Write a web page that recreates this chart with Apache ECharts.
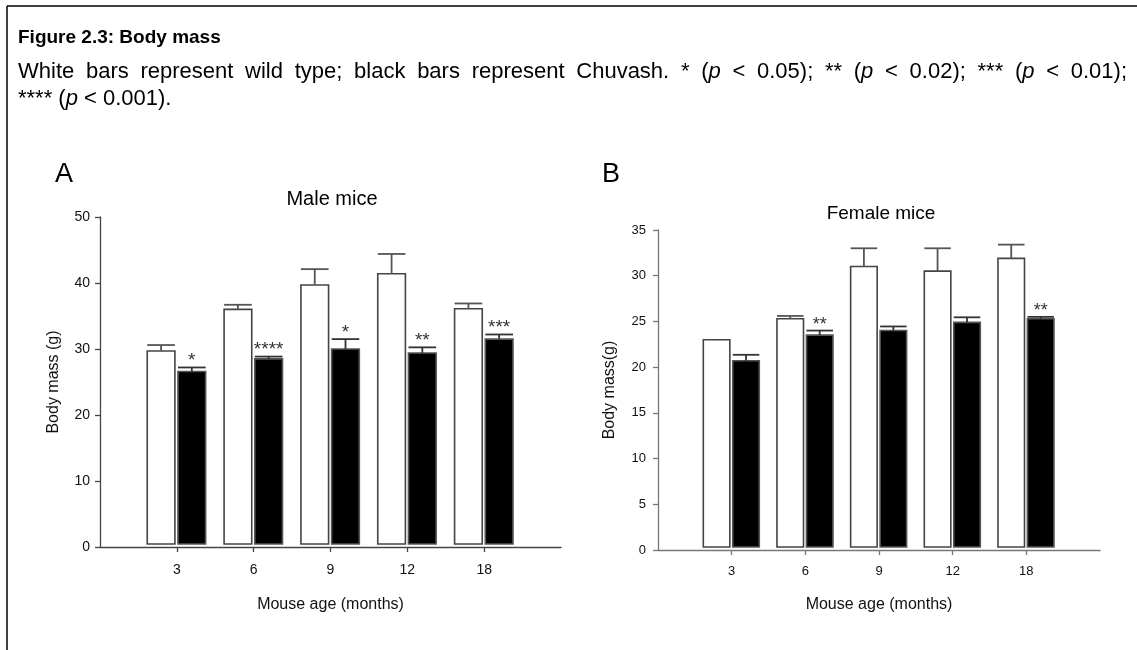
<!DOCTYPE html>
<html>
<head>
<meta charset="utf-8">
<script src="https://cdn.jsdelivr.net/npm/echarts@6/dist/echarts.min.js"></script>
<style>
html,body{margin:0;padding:0;background:#fff;}
#chart{width:1137px;height:650px;}
</style>
</head>
<body>
<div id="chart"></div>
<script>
// ---- data ----
const ages = ['3', '6', '9', '12', '18'];
const maleWT = [29.7, 36.0, 39.7, 41.4, 36.1];
const maleWTErr = [0.9, 0.7, 2.4, 3.0, 0.8];
const maleCh = [26.6, 28.5, 30.0, 29.4, 31.5];
const maleChErr = [0.6, 0.35, 1.5, 0.85, 0.7];
const maleSig = ['*', '****', '*', '**', '***'];
const femaleWT = [23.0, 25.3, 31.0, 30.5, 31.9];
const femaleWTErr = [0, 0.3, 2.0, 2.5, 1.5];
const femaleCh = [20.7, 23.5, 24.0, 24.9, 25.3];
const femaleChErr = [0.65, 0.5, 0.45, 0.55, 0.2];
const femaleSig = ['', '**', '', '', '**'];
const maleTicks = [0, 10, 20, 30, 40, 50];
const femaleTicks = [0, 5, 10, 15, 20, 25, 30, 35];

const FONT = "'Liberation Sans', Arial, Helvetica, sans-serif";
const chart = echarts.init(document.getElementById('chart'), null, {renderer: 'canvas'});

function barSeries(values, errs, sig, frac, fill, stroke, capColor, axisIdx, starSize) {
  return {
    type: 'custom',
    xAxisIndex: axisIdx, yAxisIndex: axisIdx,
    data: values.map((v, i) => [i + 1, v]),
    clip: false,
    silent: true,
    renderItem: function (params, api) {
      const i = params.dataIndex;
      const x = api.value(0), v = api.value(1), e = errs[i];
      const band = api.size([1, 0])[0];
      const base = api.coord([x, 0]);
      const top = api.coord([x, v]);
      const cap = api.coord([x, v + e]);
      const x0 = base[0] + frac[0] * band, x1 = base[0] + frac[1] * band;
      const cx = (x0 + x1) / 2;
      const children = [{
        type: 'rect',
        shape: {x: x0, y: top[1], width: x1 - x0, height: base[1] - 3 - top[1]},
        style: {fill: fill, stroke: stroke, lineWidth: 1.6}
      }];
      if (e > 0) {
        children.push({type: 'line', shape: {x1: cx, y1: top[1], x2: cx, y2: cap[1]},
          style: {stroke: capColor, lineWidth: 1.8}});
        children.push({type: 'line', shape: {x1: x0, y1: cap[1], x2: x1, y2: cap[1]},
          style: {stroke: capColor, lineWidth: 1.8}});
      }
      if (sig[i]) {
        children.push({type: 'text', x: cx, y: cap[1] + 3,
          style: {text: sig[i], fill: '#333', font: starSize + 'px ' + FONT, align: 'center', verticalAlign: 'bottom'}});
      }
      return {type: 'group', children: children};
    }
  };
}

function xAxisCfg(idx, fs, margin, nameGap, lineColor) {
  return {
    type: 'value', gridIndex: idx, min: 0, max: 6, interval: 1,
    splitLine: {show: false},
    axisLine: {show: true, lineStyle: {color: lineColor, width: 1.3}},
    axisTick: {show: true, length: 5, customValues: [1, 2, 3, 4, 5], lineStyle: {color: lineColor, width: 1.3}},
    axisLabel: {customValues: [1, 2, 3, 4, 5], formatter: v => ages[v - 1] || '', fontSize: fs, color: '#111', fontFamily: FONT, margin: margin},
    name: 'Mouse age (months)', nameLocation: 'middle', nameGap: nameGap,
    nameTextStyle: {fontSize: 16, color: '#111', fontFamily: FONT}
  };
}
function yAxisCfg(idx, ticks, fs, margin, name, nameGap, lineColor) {
  return {
    type: 'value', gridIndex: idx, min: ticks[0], max: ticks[ticks.length - 1], interval: ticks[1] - ticks[0],
    splitLine: {show: false},
    axisLine: {show: true, lineStyle: {color: lineColor, width: 1.3}},
    axisTick: {show: true, length: 5, lineStyle: {color: lineColor, width: 1.3}},
    axisLabel: {fontSize: fs, color: '#111', fontFamily: FONT, margin: margin},
    name: name, nameLocation: 'middle', nameGap: nameGap, nameRotate: 90,
    nameTextStyle: {fontSize: 16, color: '#111', fontFamily: FONT}
  };
}

// justified caption line
const BODY = 22;
const line1 = ['White', 'bars', 'represent', 'wild', 'type;', 'black', 'bars', 'represent', 'Chuvash.', '*',
  '(p', '<', '0.05);', '**', '(p', '<', '0.02);', '***', '(p', '<', '0.01);'];
const cvs = document.createElement('canvas').getContext('2d');
cvs.font = BODY + 'px ' + FONT;
const widths = line1.map(w => cvs.measureText(w).width);
const startX = 18, endX = 1127;
const gap = (endX - startX - widths.reduce((a, b) => a + b, 0)) / (line1.length - 1);
const richI = {i: {fontStyle: 'italic', fontSize: BODY, fontFamily: FONT}};
const graphics = [];
let cx = startX;
line1.forEach((w, k) => {
  const txt = w.indexOf('(p') === 0 ? '({i|p}' + w.slice(2) : w;
  graphics.push({type: 'text', x: cx, y: 72,
    style: {text: txt, font: BODY + 'px ' + FONT, fill: '#000', verticalAlign: 'middle', rich: richI}});
  cx += widths[k] + gap;
});
graphics.push({type: 'text', x: 18, y: 99,
  style: {text: '**** ({i|p} < 0.001).', font: BODY + 'px ' + FONT, fill: '#000', verticalAlign: 'middle', rich: richI}});
graphics.push({type: 'text', x: 18, y: 38,
  style: {text: 'Figure 2.3: Body mass', font: 'bold 19px ' + FONT, fill: '#000', verticalAlign: 'middle'}});
// frame
graphics.push({type: 'line', shape: {x1: 7, y1: 6, x2: 1137, y2: 6}, style: {stroke: '#000', lineWidth: 1.5}});
graphics.push({type: 'line', shape: {x1: 7, y1: 6, x2: 7, y2: 650}, style: {stroke: '#000', lineWidth: 1.5}});
// panel labels and titles
graphics.push({type: 'text', left: 55, top: 161, style: {text: 'A', font: '27px ' + FONT, fill: '#000'}});
graphics.push({type: 'text', left: 602, top: 161, style: {text: 'B', font: '27px ' + FONT, fill: '#000'}});
graphics.push({type: 'text', x: 332, y: 199, style: {text: 'Male mice', font: '20px ' + FONT, fill: '#000', align: 'center', verticalAlign: 'middle'}});
graphics.push({type: 'text', x: 881, y: 214, style: {text: 'Female mice', font: '19px ' + FONT, fill: '#000', align: 'center', verticalAlign: 'middle'}});

const option = {
  animation: false,
  backgroundColor: '#fff',
  grid: [
    {left: 100, top: 217, width: 461, height: 330, containLabel: false},
    {left: 658, top: 230, width: 442, height: 320, containLabel: false}
  ],
  xAxis: [xAxisCfg(0, 14, 16, 50, '#444'), xAxisCfg(1, 13, 15, 47, '#777')],
  yAxis: [yAxisCfg(0, maleTicks, 14, 10, 'Body mass (g)', 38, '#444'),
          yAxisCfg(1, femaleTicks, 13, 12, 'Body mass(g)', 40, '#777')],
  series: [
    barSeries(maleWT, maleWTErr, ['', '', '', '', ''], [-0.385, -0.025], '#fff', '#444', '#555', 0, 19),
    barSeries(maleCh, maleChErr, maleSig, [0.015, 0.375], '#000', '#555', '#333', 0, 19),
    barSeries(femaleWT, femaleWTErr, ['', '', '', '', ''], [-0.385, -0.025], '#fff', '#444', '#555', 1, 18),
    barSeries(femaleCh, femaleChErr, femaleSig, [0.015, 0.375], '#000', '#555', '#333', 1, 18)
  ],
  graphic: graphics
};
chart.setOption(option);
</script>
</body>
</html>
